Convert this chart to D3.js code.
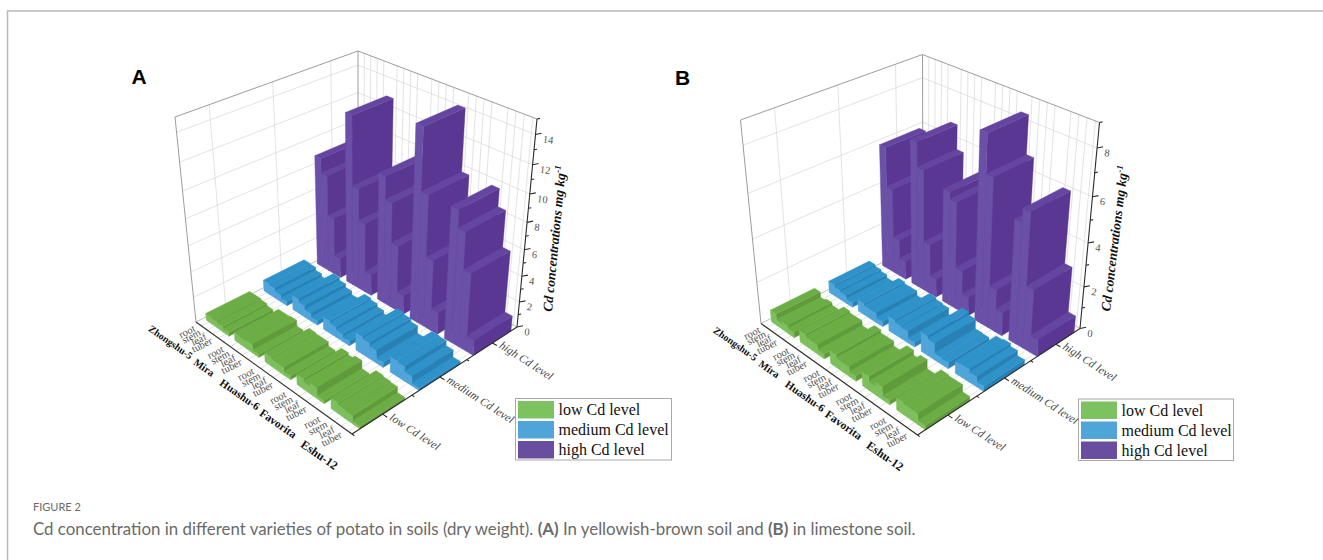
<!DOCTYPE html>
<html lang="en">

<head>
    <meta charset="utf-8">
    <title>Cd concentration in potato</title>
    <script src="https://d3js.org/d3.v7.min.js"></script>
    <style type="text/css">
        html, body { margin: 0; padding: 0; background: #fff; }
    </style>
</head>

<body>
    <script type="text/javascript">

        var w = 1323, h = 560;

        var varieties = ["Zhongshu-5", "Mira", "Huashu-6", "Favorita", "Eshu-12"];
        var organs = ["root", "stem", "leaf", "tuber"];
        var levels = ["low Cd level", "medium Cd level", "high Cd level"];

        // values per variety, root/stem/leaf/tuber
        var lowA = [[.55, .55, .47, .3], [.63, .63, .7, .24], [.7, .63, .63, .3], [.8, .63, .87, .24], [.8, .7, .63, .2]];
        var mediumA = [[.9, .85, .6, .35], [1.2, .95, .65, .35], [1, .85, .6, .35], [1.4, 1.25, 1, .4], [1.2, 1.15, .75, .2]];
        var highA = [[8.8, 7.7, 4.6, 1.6], [13, 7.9, 5.5, 1.7], [9.8, 8.1, 5.1, 1.5], [14.3, 9.9, 5.4, 1.7], [9.9, 8.6, 5.9, 1.2]];

        var lowB = [[.57, .3, .4, .28], [.57, .48, .48, .24], [.63, .48, .48, .25], [.67, .43, .63, .2], [.57, .53, .53, .2]];
        var mediumB = [[.57, .48, .4, .24], [.57, .48, .48, .25], [.72, .62, .57, .24], [.95, .8, .33, .3], [.57, .62, .48, .25]];
        var highB = [[5.9, 4.1, 1.8, .9], [6.8, 5.7, 2.4, .9], [5.3, 5, 2, .9], [8.45, 6.8, 2, 1.1], [5.5, 6.1, 2.9, .8]];

        var panels = [
            {
                letter: "A", letterX: 131.5, letterY: 84, zMax: 15, zTicks: d3.range(0, 15),
                data: [lowA, mediumA, highA],
                floor: [[196, 322], [352, 434], [517, 327], [358, 240]],
                top: [[175, 117], [350.5, 209], [537, 119], [358, 51]],
                title: [559, 239, -84.5], legendX: 515.5, legendY: 398.5
            },
            {
                letter: "B", letterX: 675, letterY: 85, zMax: 9, zTicks: d3.range(0, 9),
                data: [lowB, mediumB, highB],
                floor: [[761, 323.5], [917.5, 435], [1080, 328.5], [923, 242]],
                top: [[740.5, 120], [915.5, 212], [1099.5, 122.5], [922.5, 54.5]],
                title: [1119, 239, -83], legendX: 1078.5, legendY: 399
            }
        ];

        var colors = {
            "low Cd level": { front: "#7dbf5c", side: "#5f9a3b", top: "#6dad45" },
            "medium Cd level": { front: "#4fa5d9", side: "#2880b5", top: "#2f93ca" },
            "high Cd level": { front: "#6a50a6", side: "#5a3793", top: "#6446a0" }
        };
        var legendColors = ["#7cc261", "#4fa5d8", "#694e9f"];

        var svg = d3.select("body").append("svg")
            .attr("width", w)
            .attr("height", h)
            .style("display", "block");

        // page frame
        svg.append("path")
            .attr("d", "M7.5 560V11H1323")
            .attr("fill", "none")
            .attr("stroke", "#b8b8b8")
            .attr("stroke-width", 1.5);

        // unit square -> quadrilateral
        function homography(q) {
            var x0 = q[0][0], y0 = q[0][1], x1 = q[1][0], y1 = q[1][1],
                x2 = q[2][0], y2 = q[2][1], x3 = q[3][0], y3 = q[3][1];
            var dx1 = x1 - x2, dx2 = x3 - x2, sx = x0 - x1 + x2 - x3,
                dy1 = y1 - y2, dy2 = y3 - y2, sy = y0 - y1 + y2 - y3;
            var den = dx1 * dy2 - dx2 * dy1;
            var g = (sx * dy2 - dx2 * sy) / den, k = (dx1 * sy - sx * dy1) / den;
            var a = x1 - x0 + g * x1, b = x3 - x0 + k * x3,
                d = y1 - y0 + g * y1, e = y3 - y0 + k * y3;
            return function (u, v) {
                var t = g * u + k * v + 1;
                return [(a * u + b * v + x0) / t, (d * u + e * v + y0) / t];
            };
        }

        // slots along the x axis: 4 bars per variety, one empty slot between varieties
        var xScale = d3.scaleLinear().domain([-.5, 24]).range([0, 1]);
        var yBand = d3.scaleBand().domain(levels).range([0, 1]).paddingInner(.25).paddingOuter(.125);

        function slot(g, o) { return g * 5 + o; }

        panels.forEach(function (p) {
            var floor = homography(p.floor), roof = homography(p.top);
            var zScale = d3.scaleLinear().domain([0, p.zMax]).range([0, 1]);
            var persp = .886;

            function project(u, v, val) {
                var t = zScale(val);
                t = persp * t / (1 + (persp - 1) * t);
                var a = floor(u, v), b = roof(u, v);
                return [a[0] + (b[0] - a[0]) * t, a[1] + (b[1] - a[1]) * t];
            }
            function poly(pts) { return "M" + pts.map(function (d) { return d[0].toFixed(2) + "," + d[1].toFixed(2); }).join("L") + "Z"; }
            function seg(a, b) { return "M" + a[0] + "," + a[1] + "L" + b[0] + "," + b[1]; }

            var g = svg.append("g");
            var grid = g.append("g").attr("fill", "none").attr("stroke", "#dcdcdc").attr("stroke-width", .8);

            var centers = [];
            varieties.forEach(function (d, i) {
                organs.forEach(function (o, j) { centers.push(xScale(slot(i, j) + .5)); });
            });
            // walls and floor, x direction
            centers.forEach(function (u) {
                grid.append("path").attr("d", seg(project(u, 0, 0), project(u, 1, 0)));
                grid.append("path").attr("d", seg(project(u, 1, 0), project(u, 1, p.zMax)));
            });
            var vTicks = levels.map(function (l) { return yBand(l) + yBand.bandwidth() / 2; });
            vTicks.forEach(function (v) {
                grid.append("path").attr("d", seg(project(0, v, 0), project(1, v, 0)));
                grid.append("path").attr("d", seg(project(0, v, 0), project(0, v, p.zMax)));
            });
            var zLabels = p.zTicks.filter(function (d) { return d % 2 === 0; });
            zLabels.slice(1).forEach(function (z) {
                grid.append("path").attr("d", seg(project(0, 0, z), project(0, 1, z)));
                grid.append("path").attr("d", seg(project(0, 1, z), project(1, 1, z)));
            });

            // box edges
            var edges = g.append("g").attr("fill", "none").attr("stroke", "#9c9c9c").attr("stroke-width", 1);
            edges.append("path").attr("d", seg(project(0, 0, p.zMax), project(0, 1, p.zMax)));
            edges.append("path").attr("d", seg(project(0, 1, p.zMax), project(1, 1, p.zMax)));
            edges.append("path").attr("d", seg(project(0, 0, 0), project(0, 0, p.zMax)));
            edges.append("path").attr("d", seg(project(0, 1, 0), project(0, 1, p.zMax)));
            edges.append("path").attr("d", seg(project(0, 0, 0), project(0, 1, 0))).attr("stroke", "#bdbdbd");
            edges.append("path").attr("d", seg(project(0, 1, 0), project(1, 1, 0))).attr("stroke", "#bdbdbd");

            // bars, far row first, then left to right so nearer bars cover farther ones
            var bars = g.append("g");
            levels.slice().reverse().forEach(function (level) {
                var idx = levels.indexOf(level);
                var c = colors[level];
                var v0 = yBand(level), v1 = v0 + yBand.bandwidth();
                p.data[idx].forEach(function (row, i) {
                    row.forEach(function (val, j) {
                        var u0 = xScale(slot(i, j)), u1 = xScale(slot(i, j) + 1);
                        var bar = bars.append("g").attr("stroke-width", .4).attr("stroke-linejoin", "round");
                        bar.append("path").attr("fill", c.side).attr("stroke", c.side)
                            .attr("d", poly([project(u1, v0, 0), project(u1, v1, 0), project(u1, v1, val), project(u1, v0, val)]));
                        bar.append("path").attr("fill", c.front).attr("stroke", c.front)
                            .attr("d", poly([project(u0, v0, 0), project(u1, v0, 0), project(u1, v0, val), project(u0, v0, val)]));
                        bar.append("path").attr("fill", c.top).attr("stroke", c.top)
                            .attr("d", poly([project(u0, v0, val), project(u1, v0, val), project(u1, v1, val), project(u0, v1, val)]));
                    });
                });
            });

            // axes
            var axes = g.append("g").attr("fill", "none").attr("stroke", "#2b2b2b").attr("stroke-width", 1.1);
            axes.append("path").attr("d", seg(project(0, 0, 0), project(1, 0, 0)));
            axes.append("path").attr("d", seg(project(1, 0, 0), project(1, 1, 0)));
            axes.append("path").attr("d", seg(project(1, 1, 0), project(1, 1, p.zMax)));

            // y axis ticks: major at the level, minor between levels
            vTicks.forEach(function (v) {
                axes.append("path").attr("d", seg(project(1, v, 0), project(1.025, v, 0)));
            });
            [0, 1 / 3, 2 / 3].forEach(function (v) {
                axes.append("path").attr("d", seg(project(1, v, 0), project(1.013, v, 0)));
            });
            // z axis ticks
            d3.range(0, p.zMax + 1).forEach(function (z) {
                var a = project(1, 1, z);
                var len = z % 2 === 0 ? 6 : 3;
                axes.append("path").attr("d", seg(a, [a[0] + len, a[1] - len * .2]));
            });

            // z labels
            zLabels.forEach(function (z) {
                var a = project(1, 1, z);
                g.append("text")
                    .attr("transform", "translate(" + (a[0] + 7) + "," + (a[1] + 8) + ") rotate(7)")
                    .attr("font-family", "Liberation Serif")
                    .attr("font-size", 10.5)
                    .attr("fill", "#555")
                    .text(z);
            });

            // level labels
            vTicks.forEach(function (v, i) {
                var a = project(1.05, v, 0);
                g.append("text")
                    .attr("transform", "translate(" + (a[0] - 3) + "," + (a[1] - 1) + ") rotate(33)")
                    .attr("font-family", "Liberation Serif")
                    .attr("font-style", "italic")
                    .attr("font-size", 11.5)
                    .attr("fill", "#444")
                    .text(levels[i]);
            });

            // organ labels
            varieties.forEach(function (name, i) {
                organs.forEach(function (o, j) {
                    var a = project(xScale(slot(i, j) + .5), -.03, 0);
                    g.append("text")
                        .attr("transform", "translate(" + a[0] + "," + (a[1] + 2) + ") rotate(-27)")
                        .attr("text-anchor", "end")
                        .attr("font-family", "Liberation Serif")
                        .attr("font-size", 10.5)
                        .attr("fill", "#555")
                        .text(o);
                });
            });

            // variety labels
            var nameU = d3.scaleLinear().domain([0, 4]).range([.06, 1.01]);
            var nameSize = d3.scaleLinear().domain([0, 4]).range([10, 12]);
            varieties.forEach(function (name, i) {
                var a = project(nameU(i), -.19, 0);
                g.append("text")
                    .attr("transform", "translate(" + a[0] + "," + (a[1] - 1) + ") rotate(35)")
                    .attr("text-anchor", "middle")
                    .attr("font-family", "Liberation Serif")
                    .attr("font-weight", "bold")
                    .attr("font-size", nameSize(i))
                    .attr("fill", "#111")
                    .text(name);
            });

            // z title
            var title = g.append("text")
                .attr("transform", "translate(" + p.title[0] + "," + p.title[1] + ") rotate(" + p.title[2] + ")")
                .attr("text-anchor", "middle")
                .attr("font-family", "Liberation Serif")
                .attr("font-weight", "bold")
                .attr("font-style", "italic")
                .attr("font-size", 13.5)
                .attr("fill", "#111");
            title.append("tspan").text("Cd concentrations mg kg");
            title.append("tspan").attr("dy", -5).attr("font-size", 9).text("-1");

            // panel letter
            svg.append("text")
                .attr("x", p.letterX).attr("y", p.letterY)
                .attr("font-family", "Liberation Sans")
                .attr("font-weight", "bold")
                .attr("font-size", 21)
                .attr("fill", "#000")
                .text(p.letter);

            // legend
            var lg = svg.append("g").attr("transform", "translate(" + p.legendX + "," + p.legendY + ")");
            lg.append("rect").attr("width", p.letter === "A" ? 156 : 155).attr("height", 61.5)
                .attr("fill", "#fff").attr("stroke", "#a8a8a8");
            levels.forEach(function (l, i) {
                lg.append("rect").attr("x", 2.5).attr("y", 2.5 + i * 20)
                    .attr("width", 36).attr("height", 17.5).attr("fill", legendColors[i]);
                lg.append("text").attr("x", 43).attr("y", 16.5 + i * 20)
                    .attr("font-family", "Liberation Serif")
                    .attr("font-size", 16)
                    .attr("fill", "#111")
                    .text(l);
            });
        });

        // caption
        svg.append("text").attr("x", 33).attr("y", 511)
            .attr("font-family", "Lato").attr("font-size", 11).attr("fill", "#6a6a6a")
            .text("FIGURE 2");
        var cap = svg.append("text").attr("x", 33).attr("y", 535)
            .attr("font-family", "Lato").attr("font-size", 16.85).attr("fill", "#6a6a6a");
        cap.append("tspan").text("Cd concentration in different varieties of potato in soils (dry weight). ");
        cap.append("tspan").attr("font-weight", "bold").text("(A)");
        cap.append("tspan").text(" In yellowish-brown soil and ");
        cap.append("tspan").attr("font-weight", "bold").text("(B)");
        cap.append("tspan").text(" in limestone soil.");

    </script>
</body>

</html>
